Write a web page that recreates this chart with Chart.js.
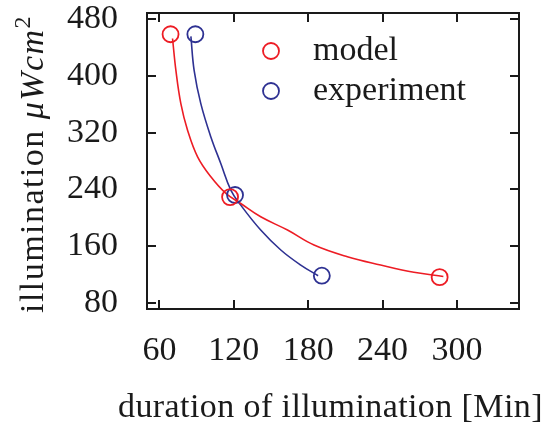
<!DOCTYPE html>
<html>
<head>
<meta charset="utf-8">
<script src="https://cdn.jsdelivr.net/npm/chart.js@4/dist/chart.umd.min.js"></script>
<style>
  html, body { margin: 0; padding: 0; background: #fff; }
</style>
</head>
<body>
<canvas id="chart" width="546" height="425"></canvas>
<script>
// measured points (circles)
const modelX = [69, 117, 286];
const modelY = [459, 229, 116];
const exptX = [89, 121, 191];
const exptY = [459, 232, 118];

// fitted curves drawn through the points
const modelCurveX = [70.6, 73.3, 77.3, 82.7, 90.8, 101.5, 113.6, 125.6, 141.7, 163.3, 184.7, 211.6, 238.4, 265.2, 289];
const modelCurveY = [453, 408, 361, 323.5, 285.8, 257.6, 234.2, 220, 201.2, 182.5, 161.3, 144.8, 133.1, 122.8, 117];
const exptCurveX = [85.4, 88, 93.4, 101.5, 109.5, 117.6, 125.6, 141.7, 157.9, 174, 188];
const exptCurveY = [456, 408, 361, 314, 276.5, 239, 217.7, 182.5, 154.3, 133, 118];

const xTicks = [60, 120, 180, 240, 300];
const yTicks = [80, 160, 240, 320, 400, 480];

const xLabel = 'duration of illumination [Min]';
const yLabel = ['illumination ', '\u03bcWcm', '2'];

const RED = 'rgb(237,28,36)';
const BLUE = 'rgb(46,49,146)';
const INK = '#1a1a1a';
const FONT = 'Liberation Serif';
const SIZE = 34;

const pts = (xs, ys) => xs.map((x, i) => ({x: x, y: ys[i]}));
const font = (px, style) => (style ? style + ' ' : '') + px + 'px "' + FONT + '"';

Chart.defaults.font.family = FONT;
Chart.defaults.font.size = SIZE;
Chart.defaults.color = INK;

// legend inside the plot, circles + labels
const innerLegend = {
  id: 'innerLegend',
  afterDraw(chart) {
    const ctx = chart.ctx;
    const a = chart.chartArea;
    ctx.save();
    ctx.font = font(SIZE);
    ctx.textBaseline = 'middle';
    ctx.textAlign = 'left';
    chart.data.datasets.filter(d => d.legend).forEach((d, i) => {
      const cy = a.top + 38 + i * 40;
      const cx = a.left + 124;
      ctx.beginPath();
      ctx.arc(cx, cy, 8, 0, Math.PI * 2);
      ctx.lineWidth = 1.8;
      ctx.strokeStyle = d.borderColor;
      ctx.stroke();
      ctx.fillStyle = INK;
      ctx.fillText(d.label, cx + 42, cy);
    });
    ctx.restore();
  }
};

// lay out text runs along a line, spread out to a given total width
function drawRuns(ctx, parts, x0, span) {
  ctx.letterSpacing = '0px';
  let w = 0, n = 0;
  parts.forEach(p => { ctx.font = p.f; p.w = ctx.measureText(p.t).width; w += p.w; n += p.t.length; });
  const gap = Math.max(0, (span - w) / n);
  ctx.letterSpacing = gap.toFixed(2) + 'px';
  let x = x0;
  parts.forEach(p => { ctx.font = p.f; ctx.fillText(p.t, x, p.dy); x += p.w + gap * p.t.length; });
}

// axis titles: wide serif look, italic unit with superscript
const axisTitles = {
  id: 'axisTitles',
  afterDraw(chart) {
    const ctx = chart.ctx;
    const a = chart.chartArea;
    ctx.save();
    ctx.fillStyle = INK;
    ctx.textBaseline = 'alphabetic';
    ctx.textAlign = 'left';

    drawRuns(ctx, [{t: xLabel, f: font(SIZE), dy: a.bottom + 108}], a.left - 29, 425);

    ctx.translate(43, (a.top + a.bottom) / 2 + 3);
    ctx.rotate(-Math.PI / 2);
    drawRuns(ctx, [
      {t: yLabel[0], f: font(SIZE), dy: 0},
      {t: yLabel[1], f: font(SIZE, 'italic'), dy: 0},
      {t: yLabel[2], f: font(24), dy: -13}
    ], -149, 298);
    ctx.restore();
  }
};

const gridOpts = {drawOnChartArea: false, tickLength: -9, color: INK, lineWidth: 2};
const borderOpts = {color: INK, width: 2};
const setTicks = list => scale => { scale.ticks = list.map(v => ({value: v})); };
// fixed axis sizes, no extra label overhang
const fixSize = (prop, v) => scale => {
  scale[prop] = v;
  scale.paddingTop = scale.paddingBottom = scale.paddingLeft = scale.paddingRight = 0;
};

new Chart(document.getElementById('chart'), {
  type: 'scatter',
  data: {
    datasets: [
      {label: 'model', legend: true, data: pts(modelX, modelY), borderColor: RED, backgroundColor: 'rgba(0,0,0,0)',
       pointRadius: 8, pointBorderWidth: 1.8, showLine: false},
      {label: 'experiment', legend: true, data: pts(exptX, exptY), borderColor: BLUE, backgroundColor: 'rgba(0,0,0,0)',
       pointRadius: 8, pointBorderWidth: 1.8, showLine: false},
      {label: 'model fit', data: pts(modelCurveX, modelCurveY), borderColor: RED, borderWidth: 1.6,
       pointRadius: 0, showLine: true, tension: 0.4},
      {label: 'experiment fit', data: pts(exptCurveX, exptCurveY), borderColor: BLUE, borderWidth: 1.6,
       pointRadius: 0, showLine: true, tension: 0.4}
    ]
  },
  options: {
    responsive: false,
    animation: false,
    layout: {padding: 0},
    plugins: {legend: {display: false}, tooltip: {enabled: false}},
    scales: {
      x: {
        type: 'linear', position: 'bottom', min: 50, max: 350,
        afterBuildTicks: setTicks(xTicks),
        afterFit: fixSize('height', 116),
        ticks: {padding: 31, maxRotation: 0, color: INK},
        grid: gridOpts, border: borderOpts
      },
      x2: {
        type: 'linear', position: 'top', axis: 'x', min: 50, max: 350,
        afterBuildTicks: setTicks(xTicks),
        afterFit: fixSize('height', 13),
        ticks: {display: false},
        grid: gridOpts, border: borderOpts
      },
      y: {
        type: 'linear', position: 'left', min: 71, max: 489,
        afterBuildTicks: setTicks(yTicks),
        afterFit: fixSize('width', 147),
        ticks: {padding: 38, color: INK},
        grid: gridOpts, border: borderOpts
      },
      y2: {
        type: 'linear', position: 'right', axis: 'y', min: 71, max: 489,
        afterBuildTicks: setTicks(yTicks),
        afterFit: fixSize('width', 27),
        ticks: {display: false},
        grid: gridOpts, border: borderOpts
      }
    }
  },
  plugins: [innerLegend, axisTitles]
});
</script>
</body>
</html>
